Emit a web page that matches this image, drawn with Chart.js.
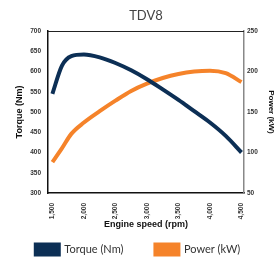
<!DOCTYPE html>
<html><head><meta charset="utf-8">
<script src="https://cdn.jsdelivr.net/npm/chart.js@4"></script>
<style>html,body{margin:0;padding:0;background:#fff}#wrap{width:276px;height:257px;position:relative}canvas{display:block}</style>
</head><body><div id="wrap"><canvas id="c" width="276" height="257"></canvas></div>
<script>
const chartTitle = "TDV8";
const rpm = [1500,1650,1800,2000,2250,2500,2750,3000,3250,3500,3750,4000,4250,4500];
const torque = [545,614,638,642,635,621,603,581,556,530,502,474,441,400];
const power = [88,105,123,137,151,164,176,185,192,197,200,201,198,187];
const rpmTicks = [1500,2000,2500,3000,3500,4000,4500];
const torqueTicks = [300,350,400,450,500,550,600,650,700];
const powerTicks = [50,100,150,200,250];
const seriesNames = ["Torque (Nm)", "Power (kW)"];
const axisTitles = {x:"Engine speed (rpm)", y:"Torque (Nm)", y1:"Power (kW)"};

const NAVY = "#0c2f55", ORANGE = "#f5832a";
const tickFont = {family:"Arial, 'Liberation Sans', sans-serif", size:6.5, weight:"bold"};

const frame = {
  id:"frame",
  afterDatasetsDraw(chart){
    const a = chart.chartArea, ctx = chart.ctx;
    ctx.save();
    ctx.strokeStyle = "#222"; ctx.lineWidth = 1;
    ctx.beginPath(); ctx.moveTo(a.left, a.top+0.5); ctx.lineTo(a.right, a.top+0.5); ctx.stroke();
    ctx.restore();
  },
  afterLayout(chart){
    const lg = chart.legend;
    lg.top = 212; lg.bottom = 257; lg.height = 45;
  }
};

new Chart(document.getElementById("c"), {
  type:"line",
  data:{
    datasets:[
      {label:seriesNames[0], data:rpm.map((r,i)=>({x:r,y:torque[i]})), yAxisID:"y",
       borderColor:NAVY, backgroundColor:NAVY, borderWidth:4, pointRadius:0, cubicInterpolationMode:"monotone", fill:false},
      {label:seriesNames[1], data:rpm.map((r,i)=>({x:r,y:power[i]})), yAxisID:"y1",
       borderColor:ORANGE, backgroundColor:ORANGE, borderWidth:4, pointRadius:0, cubicInterpolationMode:"monotone", fill:false}
    ]
  },
  options:{
    responsive:false, animation:false, devicePixelRatio:1,
    layout:{padding:0},
    plugins:{
      title:{display:true, text:chartTitle, fullSize:false, color:"#444",
        font:{family:"Lato, sans-serif", size:13, weight:"normal"}, padding:{top:8,bottom:7.4}},
      legend:{position:"bottom", align:"center", maxHeight:26,
        labels:{boxWidth:23, boxHeight:10, padding:32, color:"#333",
          font:{family:"Lato, sans-serif", size:11}}},
      tooltip:{enabled:false}
    },
    scales:{
      x:{type:"linear", min:1430, max:4540,
        afterBuildTicks(s){ s.ticks = rpmTicks.map(v=>({value:v})); },
        afterFit(s){ s.height = 38; },
        grid:{display:false, drawTicks:false},
        border:{display:true, color:"#111", width:1.5},
        ticks:{autoSkip:false, maxRotation:90, minRotation:90, padding:10, color:"#333", font:tickFont,
          callback:v=>v.toLocaleString("en-US")},
        title:{display:true, text:axisTitles.x, color:"#111", padding:{top:0,bottom:1},
          font:{family:"Arial, 'Liberation Sans', sans-serif", size:9, weight:"bold"}}
      },
      y:{position:"left", min:300, max:700,
        afterBuildTicks(s){ s.ticks = torqueTicks.map(v=>({value:v})); },
        afterFit(s){ s.width = 48; },
        grid:{display:false, drawTicks:false},
        border:{display:true, color:"#111", width:1.5},
        ticks:{padding:7, color:"#333", font:tickFont},
        title:{display:true, text:axisTitles.y, color:"#111", padding:{top:14,bottom:0},
          font:{family:"Arial, 'Liberation Sans', sans-serif", size:9, weight:"bold"}}
      },
      y1:{position:"right", min:50, max:250,
        afterBuildTicks(s){ s.ticks = powerTicks.map(v=>({value:v})); },
        afterFit(s){ s.width = 32; },
        grid:{display:false, drawTicks:false},
        border:{display:true, color:"#888", width:1.5},
        ticks:{padding:3, color:"#333", font:tickFont},
        title:{display:true, text:axisTitles.y1, color:"#111", padding:{top:0,bottom:0},
          font:{family:"Arial, 'Liberation Sans', sans-serif", size:8, weight:"bold"}}
      }
    }
  },
  plugins:[frame]
});
</script></body></html>
